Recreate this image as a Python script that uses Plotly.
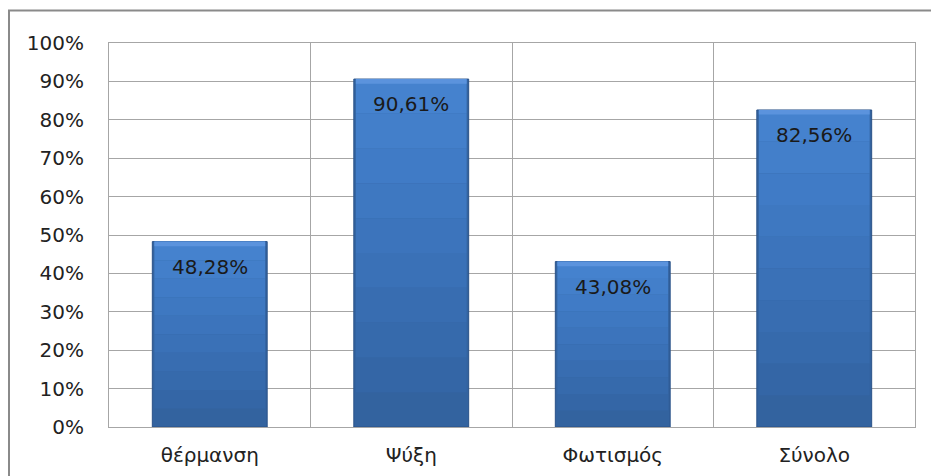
import plotly.graph_objects as go

# Share of each end use
categories = ["θέρμανση", "Ψύξη", "Φωτισμός", "Σύνολο"]
values = [48.28, 90.61, 43.08, 82.56]
tick_values = [0, 10, 20, 30, 40, 50, 60, 70, 80, 90, 100]
tick_labels = [f"{v}%" for v in tick_values]

W, H = 931, 476
L, R, T, B = 109, 16, 43, 49
FONT = "DejaVu Sans"
GRID = "#a6a6a6"
BAR_W = 0.57

fig = go.Figure()

# Main bar body with outline
fig.add_trace(go.Bar(
    x=categories, y=values,
    marker=dict(color="#33639f", line=dict(color="#2a5288", width=1)),
    width=BAR_W, hoverinfo="skip",
))

# Vertical shading: stacked bands getting lighter towards the top
band_colors = ["#3466a6", "#366aac", "#386db1", "#3a71b7", "#3c74bc",
               "#3e78c1", "#407bc6", "#437fca", "#4582ce"]
n = len(band_colors)
for i, col in enumerate(band_colors):
    fig.add_trace(go.Bar(
        x=categories,
        y=[v / (n + 1) for v in values],
        base=[v * (i + 1) / (n + 1) for v in values],
        marker=dict(color=col, line=dict(width=0)),
        width=BAR_W - 0.02, hoverinfo="skip",
    ))

# Bevel strip along the top edge
fig.add_trace(go.Bar(
    x=categories, y=[1.2] * len(values), base=[v - 1.2 for v in values],
    marker=dict(color="#5b93dd", line=dict(width=0)),
    width=BAR_W - 0.02, hoverinfo="skip",
))

# Value labels inside the top of each bar
for c, v in zip(categories, values):
    fig.add_annotation(
        x=c, y=v, text=f"{v:.2f}%".replace(".", ","),
        showarrow=False, yanchor="top", yshift=-11,
        font=dict(family=FONT, size=20, color="#1a1a1a"),
    )

# Outer chart frame
fig.add_shape(
    type="rect", xref="paper", yref="paper",
    x0=(9 - L) / (W - L - R), x1=1.2,
    y0=-0.3, y1=1 + (T - 10.5) / (H - T - B),
    line=dict(color="#8a8a8a", width=2), fillcolor="rgba(0,0,0,0)", layer="below",
)

fig.update_layout(
    width=W, height=H,
    margin=dict(l=L, r=R, t=T, b=B, pad=0, autoexpand=False),
    paper_bgcolor="white", plot_bgcolor="white",
    barmode="overlay", showlegend=False,
    font=dict(family=FONT, size=20, color="#222222"),
)
fig.update_xaxes(
    type="category", tickson="boundaries", showgrid=True, gridcolor=GRID, gridwidth=1,
    showline=True, linecolor=GRID, linewidth=1, mirror=True, automargin=False,
    ticks="", ticklabelstandoff=10, tickfont=dict(family=FONT, size=20, color="#222222"),
)
fig.update_yaxes(
    range=[0, 100], tickvals=tick_values, ticktext=tick_labels,
    showgrid=True, gridcolor=GRID, gridwidth=1, zeroline=False,
    showline=True, linecolor=GRID, linewidth=1, mirror=True, automargin=False,
    ticks="", ticklabelstandoff=20, tickfont=dict(family=FONT, size=20, color="#222222"),
)

fig.write_html("out.html")
